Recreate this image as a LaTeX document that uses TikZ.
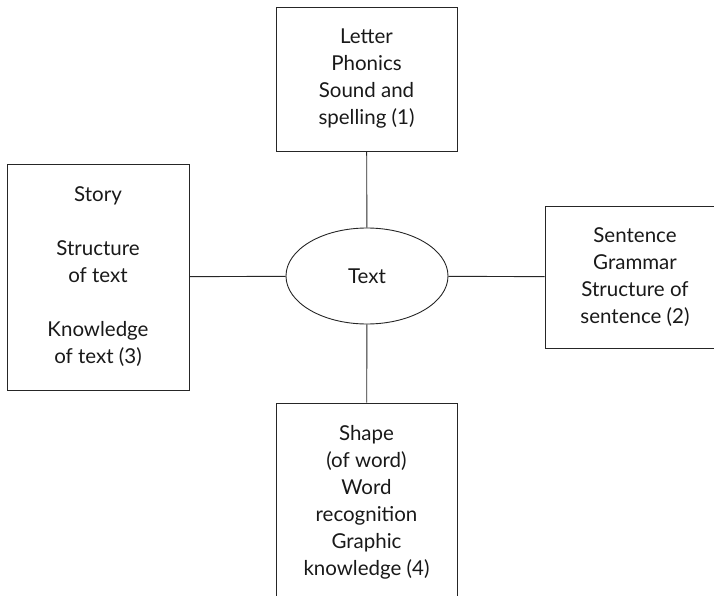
\documentclass[tikz,border=0pt]{standalone}
\usepackage{fontspec}
\setmainfont{Lato}
\usetikzlibrary{shapes.geometric}
\begin{document}
\begin{tikzpicture}[x=1pt,y=-1pt,
		box/.style={draw=black!85,line width=0.9pt,text=black!90,align=center,inner sep=0pt,font=\fontsize{20.5}{27}\selectfont},
		hub/.style={draw=black!85,line width=0.9pt,text=black!90,ellipse,inner sep=0pt,minimum width=162pt,minimum height=96pt,font=\fontsize{20.5}{27}\selectfont},
		link/.style={draw=black!85,line width=0.9pt}]
			\useasboundingbox (0,0) rectangle (714,596);
			\clip (0,0) rectangle (714,596);

			\node[hub] (text) at (367,276) {Text};

			\node[box,minimum width=181pt,minimum height=144pt] (letter) at (366.5,79) {Letter\\Phonics\\Sound and\\spelling (1)};
			\node[box,minimum width=182pt,minimum height=226pt] (story) at (98,277) {Story\\[27pt]Structure\\of text\\[27pt]Knowledge\\of text (3)};
			\node[box,minimum width=180pt,minimum height=142pt] (sentence) at (635,277) {Sentence\\Grammar\\Structure of\\sentence (2)};
			\node[box,minimum width=181pt,minimum height=198pt] (shape) at (366.5,502) {Shape\\(of word)\\Word\\recognition\\Graphic\\knowledge (4)};

			\draw[link] (letter) -- (text);
			\draw[link] (text) -- (shape);
			\draw[link] (story) -- (text);
			\draw[link] (text) -- (sentence);
		    \end{tikzpicture}
\end{document}
